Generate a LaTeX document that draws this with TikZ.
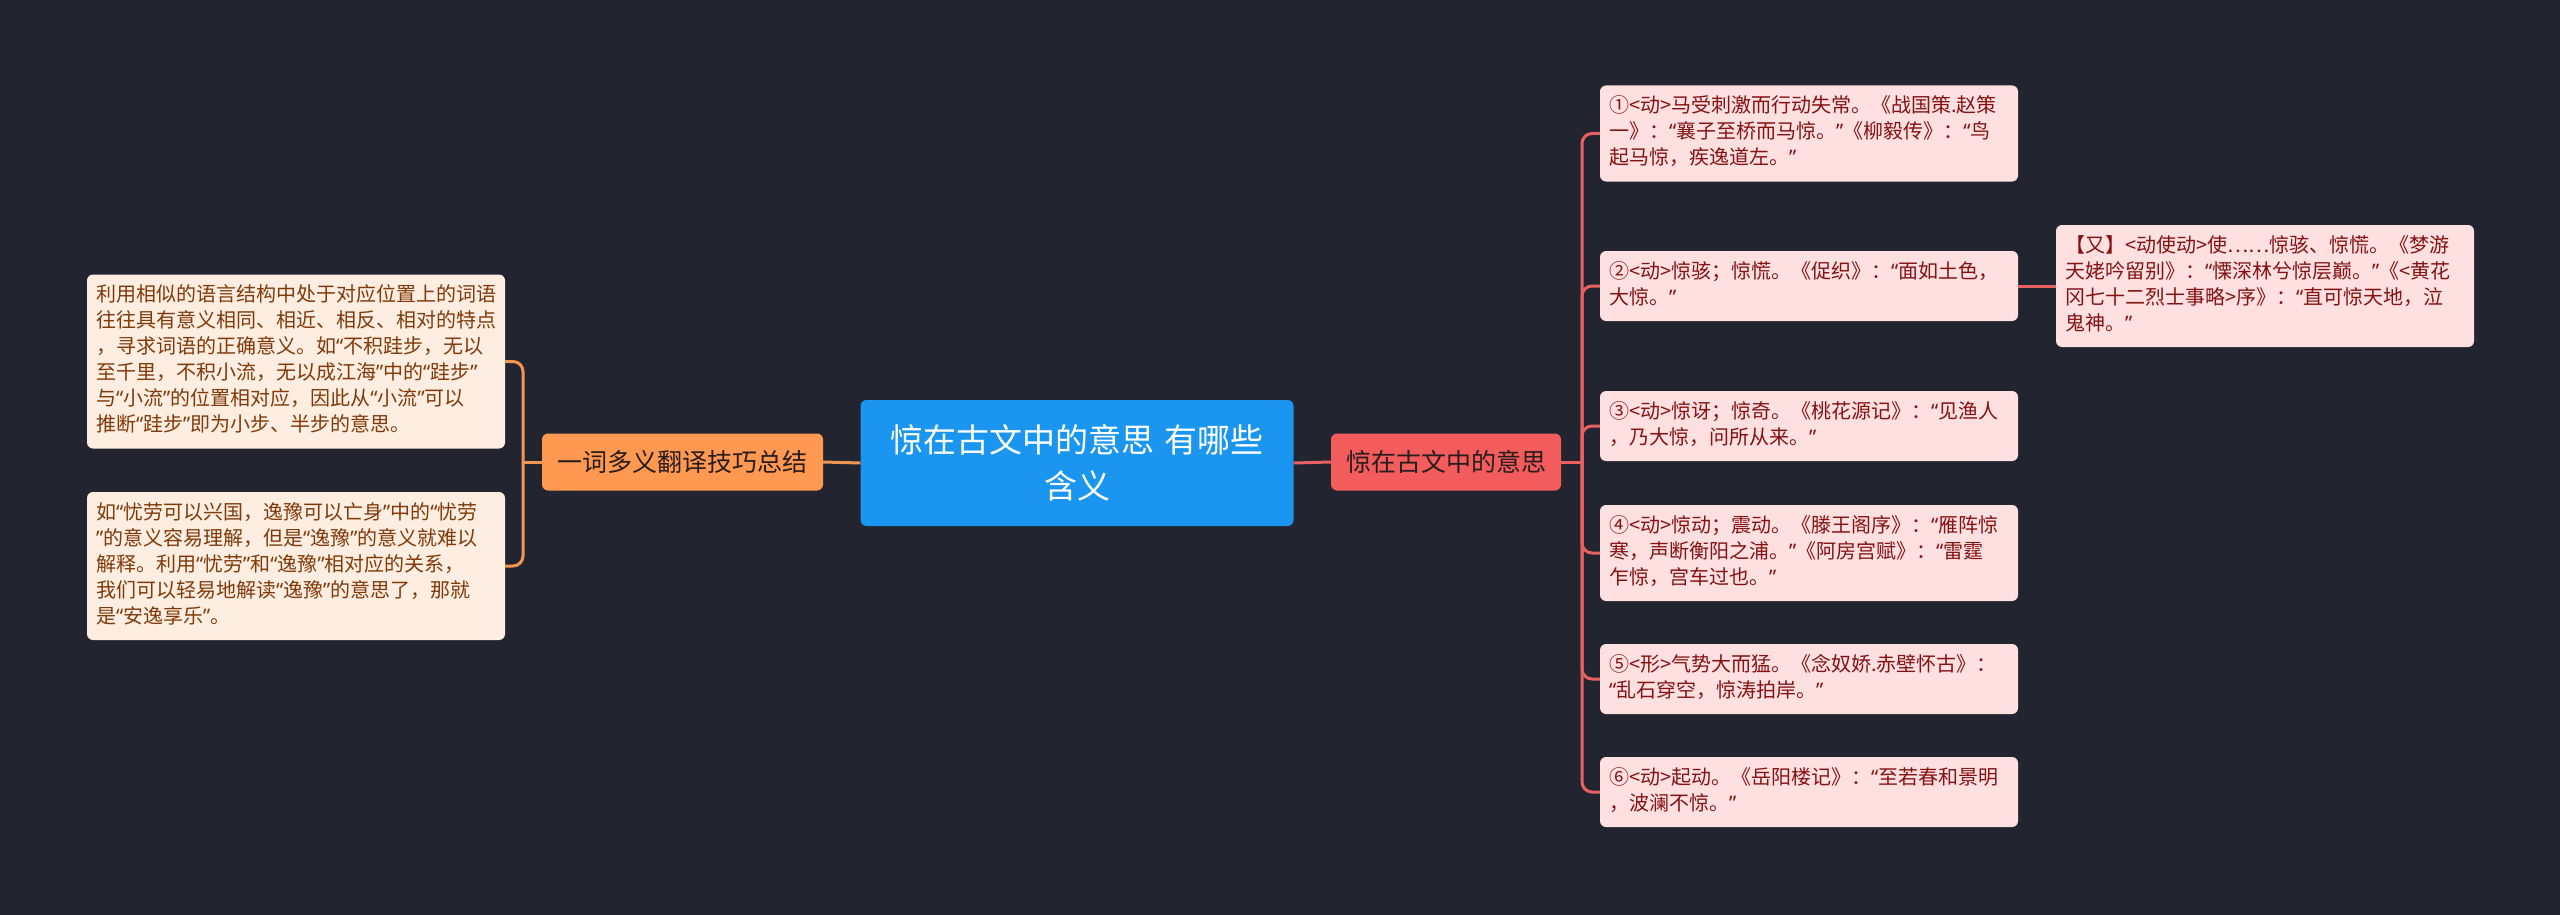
\documentclass[tikz,border=0pt]{standalone}
\usepackage{fontspec}
\setmainfont{Noto Sans CJK SC}
\newfontfamily\qfont{Noto Sans}
\catcode`\“=13
\def“{{\qfont\char"201C}}
\catcode`\”=13
\def”{{\qfont\char"201D}}
\definecolor{bg}{RGB}{34,37,47}
\definecolor{cblue}{RGB}{27,150,240}
\definecolor{cred}{RGB}{243,92,92}
\definecolor{corange}{RGB}{255,153,82}
\definecolor{lred}{RGB}{233,96,96}
\definecolor{lorange}{RGB}{240,150,82}
\definecolor{rfill}{RGB}{254,224,225}
\definecolor{rtext}{RGB}{132,18,18}
\definecolor{lfill}{RGB}{254,237,225}
\definecolor{ltext}{RGB}{128,58,10}
\definecolor{dtext}{RGB}{40,28,28}
\tikzset{
  leafbase/.style={rounded corners=6pt, font=\fontsize{20}{26}\selectfont, align=left,
    text width=400pt, inner xsep=9pt, inner ysep=9pt, minimum width=418pt},
  rleaf/.style={leafbase, fill=rfill, text=rtext},
  lleaf/.style={leafbase, fill=lfill, text=ltext},
  rootbox/.style={rounded corners=6pt, fill=cblue, text=white, font=\fontsize{33}{46}\selectfont,
    align=center, text width=425pt, minimum width=433pt, minimum height=126pt, inner sep=0pt},
  mainbox/.style={rounded corners=6pt, text=dtext, font=\fontsize{25}{30}\selectfont,
    minimum height=57pt, inner sep=0pt},
  rconn/.style={draw=lred, line width=3pt},
  oconn/.style={draw=lorange, line width=3pt},
}
\begin{document}
\begin{tikzpicture}[x=1pt,y=-1pt]
\fill[bg] (0,0) rectangle (2560,915);
\useasboundingbox (0,0) rectangle (2560,915);

\node[rootbox] (root) at (1077,463) {惊在古文中的意思 有哪些\\含义};
\node[mainbox, fill=cred, minimum width=230pt] (mr) at (1446,462) {惊在古文中的意思};
\node[mainbox, fill=corange, minimum width=281pt] (ml) at (682.5,462) {一词多义翻译技巧总结};

\node[rleaf] (r1) at (1809,133.5) {\strut ①<动>马受刺激而行动失常。《战国策.赵策\\一》：“襄子至桥而马惊。”《柳毅传》：“鸟\\起马惊，疾逸道左。”\strut};
\node[rleaf] (r2) at (1809,286) {\strut ②<动>惊骇；惊慌。《促织》：“面如土色，\\大惊。”\strut};
\node[rleaf] (r3) at (1809,426) {\strut ③<动>惊讶；惊奇。《桃花源记》：“见渔人\\，乃大惊，问所从来。”\strut};
\node[rleaf] (r4) at (1809,553) {\strut ④<动>惊动；震动。《滕王阁序》：“雁阵惊\\寒，声断衡阳之浦。”《阿房宫赋》：“雷霆\\乍惊，宫车过也。”\strut};
\node[rleaf] (r5) at (1809,679) {\strut ⑤<形>气势大而猛。《念奴娇.赤壁怀古》：\\“乱石穿空，惊涛拍岸。”\strut};
\node[rleaf] (r6) at (1809,792) {\strut ⑥<动>起动。《岳阳楼记》：“至若春和景明\\，波澜不惊。”\strut};
\node[rleaf] (far) at (2265,286) {\strut 【又】<动使动>使……惊骇、惊慌。《梦游\\天姥吟留别》：“慄深林兮惊层巅。”《<黄花\\冈七十二烈士事略>序》：“直可惊天地，泣\\鬼神。”\strut};

\node[lleaf] (l1) at (296,361.5) {\strut 利用相似的语言结构中处于对应位置上的词语\\往往具有意义相同、相近、相反、相对的特点\\，寻求词语的正确意义。如“不积跬步，无以\\至千里，不积小流，无以成江海”中的“跬步”\\与“小流”的位置相对应，因此从“小流”可以\\推断“跬步”即为小步、半步的意思。\strut};
\node[lleaf] (l2) at (296,566) {\strut 如“忧劳可以兴国，逸豫可以亡身”中的“忧劳\\”的意义容易理解，但是“逸豫”的意义就难以\\解释。利用“忧劳”和“逸豫”相对应的关系，\\我们可以轻易地解读“逸豫”的意思了，那就\\是“安逸享乐”。\strut};

\coordinate (rb) at (1582,462);
\coordinate (lb) at (523,462);

\draw[rconn] (root.east) -- (mr.west);
\draw[oconn] (root.west) -- (ml.east);
\draw[rconn] (mr.east) -- (rb);
\foreach \n in {r1,r2,r3,r4,r5,r6}{
  \draw[rconn, rounded corners=10pt] (rb) |- (\n.west);
}
\draw[rconn] (r2.east) -- (far.west);
\draw[oconn] (ml.west) -- (lb);
\foreach \n in {l1,l2}{
  \draw[oconn, rounded corners=10pt] (lb) |- (\n.east);
}
\end{tikzpicture}
\end{document}
